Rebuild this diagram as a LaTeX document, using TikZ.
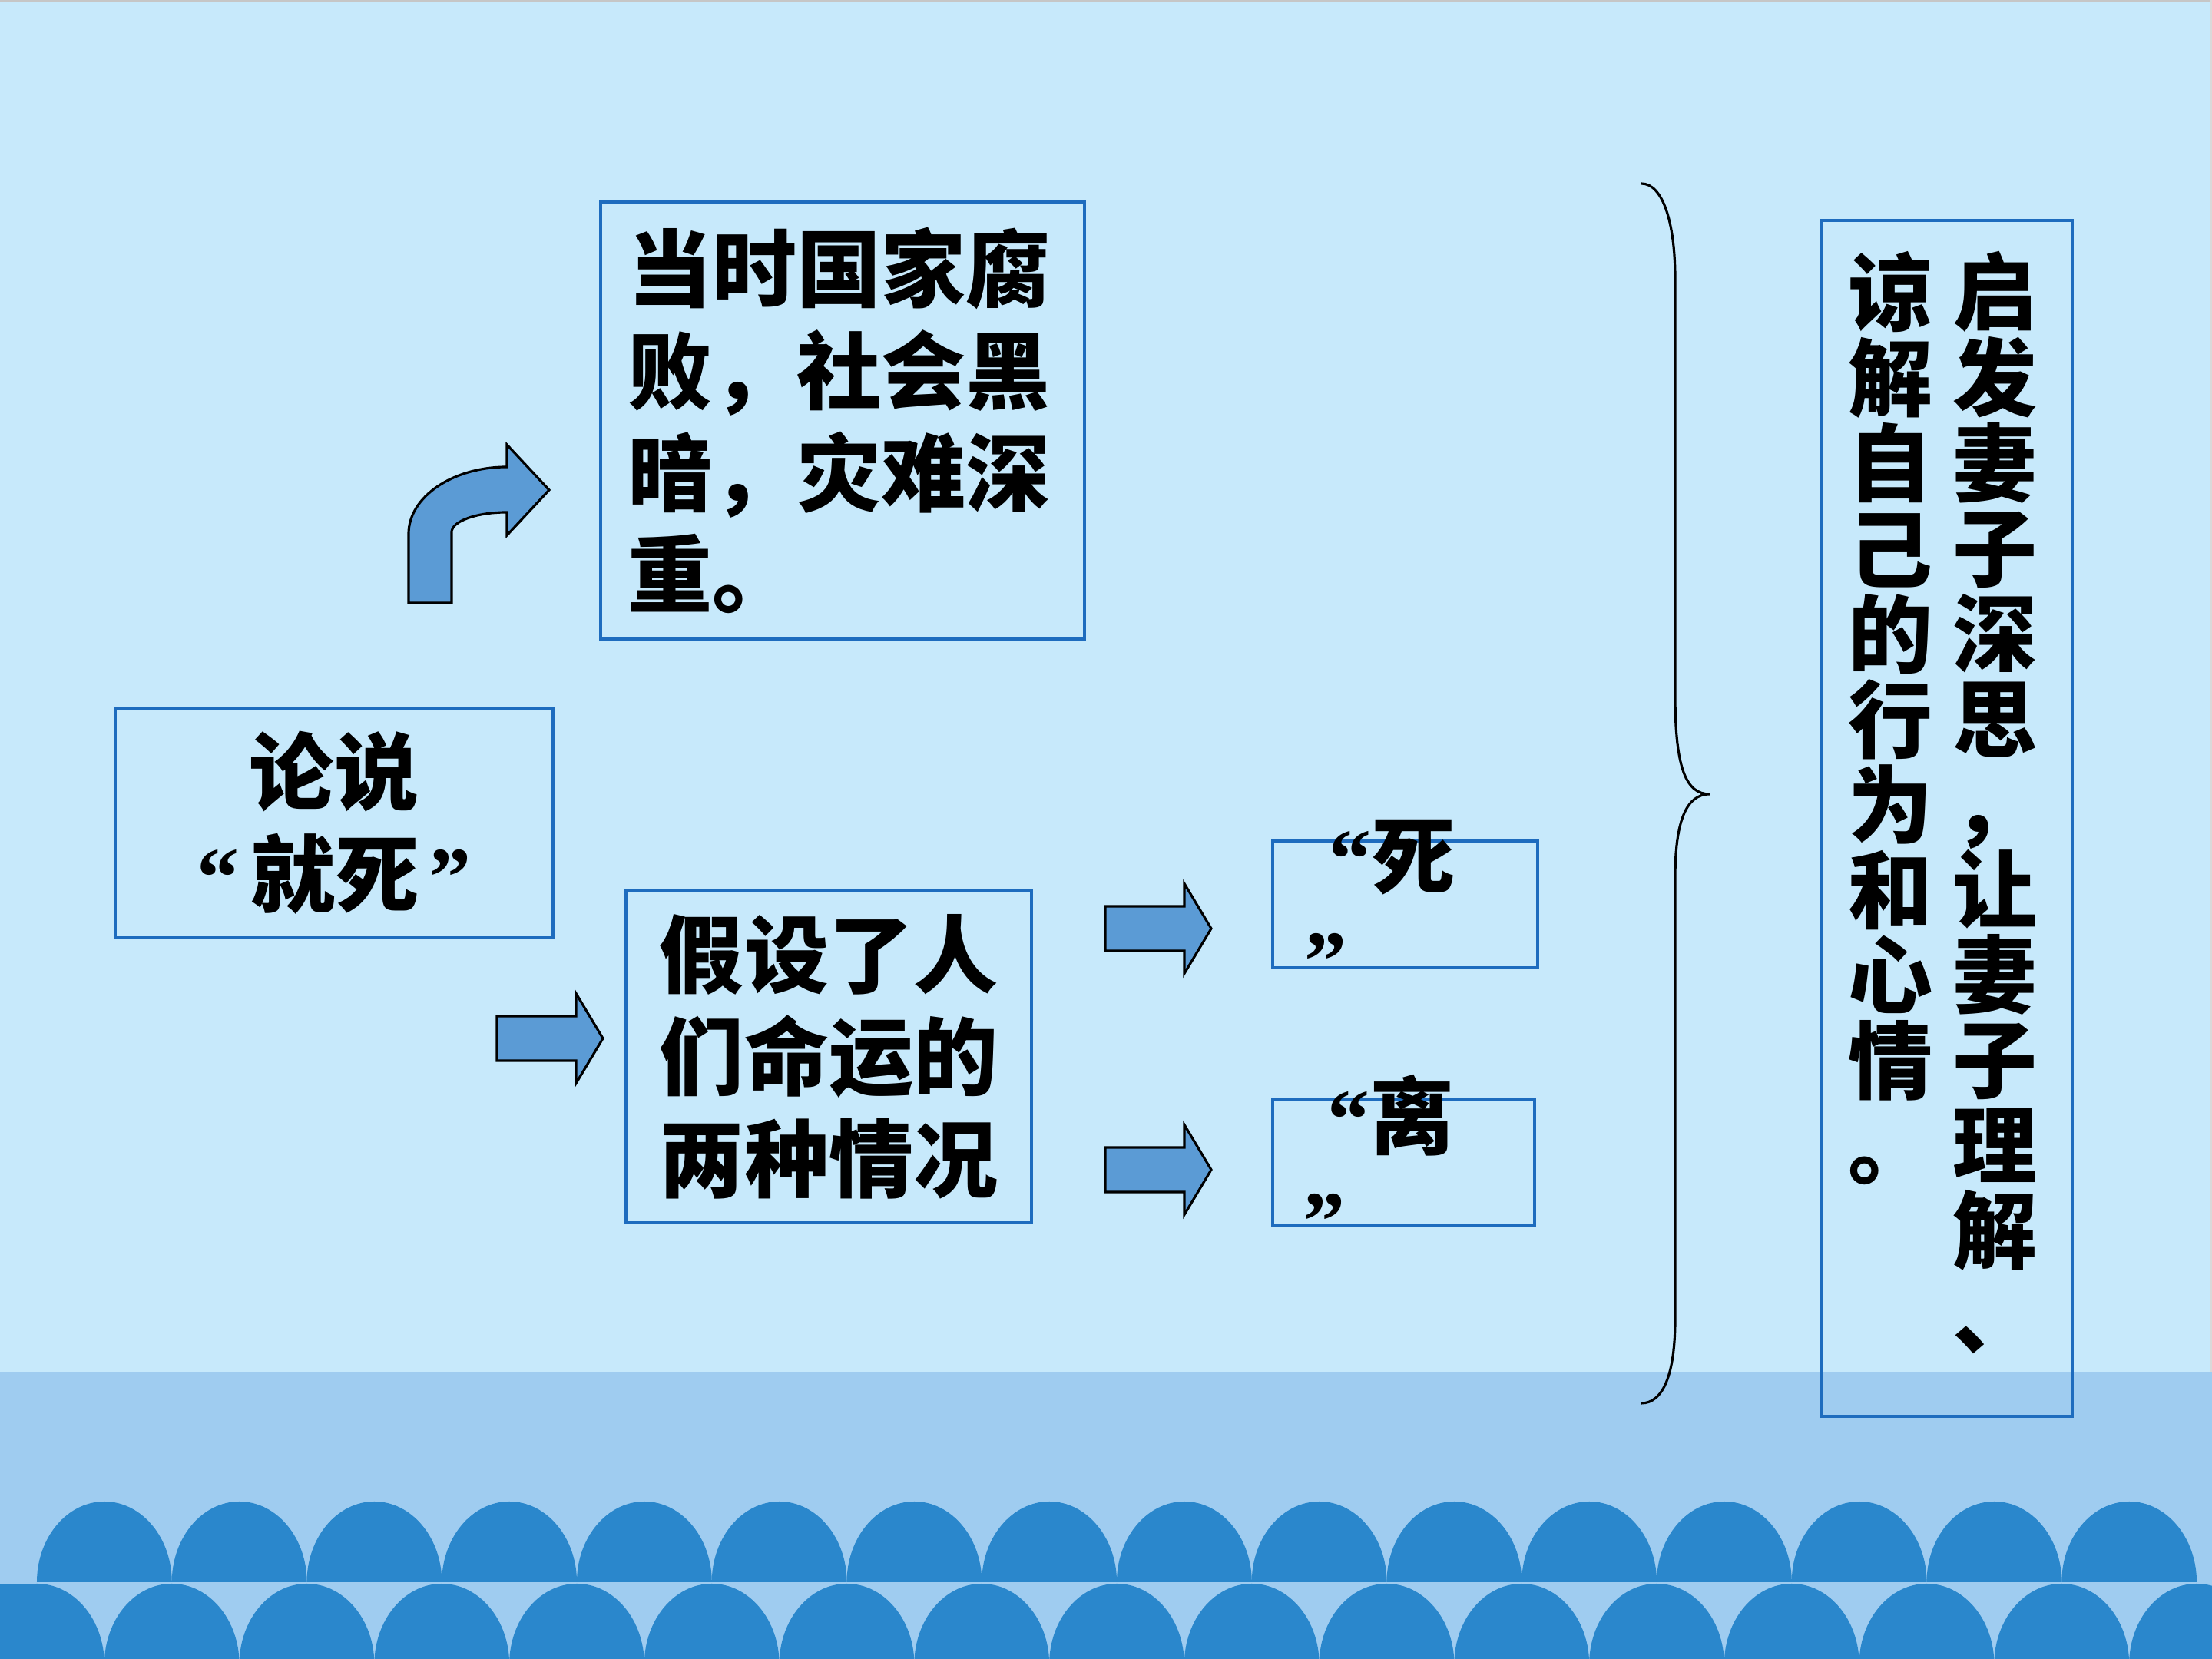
\documentclass[tikz,border=0pt]{standalone}
\usepackage{fontspec}
\usepackage{tikz}
\newfontfamily\cjkfont{Noto Sans CJK SC}
\newfontfamily\qtfont{Liberation Serif}
\definecolor{bgblue}{RGB}{199,233,251}
\definecolor{bandblue}{RGB}{159,204,240}
\definecolor{waveblue}{RGB}{42,135,204}
\definecolor{arrowblue}{RGB}{91,155,213}
\definecolor{boxblue}{RGB}{30,108,190}
\newcommand{\boxfont}{\cjkfont\bfseries\fontsize{31.3pt}{37.8pt}\selectfont}
\newcommand{\colfont}{\cjkfont\bfseries\fontsize{31.3pt}{31.6pt}\selectfont}
\newcommand{\openq}{{\qtfont “}}
\newcommand{\closeq}{{\qtfont ”}}
\newcommand{\rightblock}[1]{%
  \draw[blockarrow] (#1) ++(0,0.29) -- ++(1.03,0) -- ++(0,0.295) -- ++(0.35,-0.585)
    -- ++(-0.35,-0.585) -- ++(0,0.295) -- ++(-1.03,0) -- cycle;}

\begin{document}
\begin{tikzpicture}[
  every node/.style={font=\boxfont},
  textbox/.style={shape=rectangle,draw=boxblue,line width=1pt,inner sep=0pt},
  column/.style={align=center,inner sep=0pt,anchor=north,font=\colfont},
  quoteword/.style={align=left,text width=1.99cm,inner sep=0pt},
  blockarrow/.style={draw=black,fill=arrowblue,line width=0.9pt},
  brace/.style={draw=black,line width=0.9pt},
  wave/.style={fill=waveblue}
]
\useasboundingbox (0,0) rectangle (28.8,21.6);
\fill[bgblue] (0,0) rectangle (28.8,21.6);
\fill[gray!45] (0,21.57) rectangle (28.8,21.6);
\fill[gray!30] (28.77,0) rectangle (28.8,21.6);

% bottom band and waves
\fill[bandblue] (0,0) rectangle (28.8,3.74);
\begin{scope}
  \clip (0,0) rectangle (28.8,21.6);
  \foreach \k in {0,...,15}
    \fill[wave] ({0.48+1.7575*\k},1.0) arc[start angle=180,end angle=0,x radius=0.879,y radius=1.05] -- cycle;
  \foreach \k in {0,...,16}
    \fill[wave] ({0.48+1.7575*\k-0.879},-0.07) arc[start angle=180,end angle=0,x radius=0.879,y radius=1.05] -- cycle;
  \fill[wave] (0,-0.1) rectangle (0.48,0.98);
\end{scope}

% boxes
\node[textbox,minimum width=5.70cm,minimum height=2.99cm,align=center] (death) at (4.35,10.885)
  {论说\\\openq\hspace{0.15cm}就死\hspace{0.12cm}\closeq};
\node[textbox,minimum width=6.30cm,minimum height=5.69cm,align=left,text width=5.6cm] (country) at (10.97,16.125)
  {当时国家腐\\败，社会黑\\暗，灾难深\\重。};
\node[textbox,minimum width=5.28cm,minimum height=4.33cm,align=center] (cases) at (10.79,7.845)
  {假设了人\\们命运的\\两种情况};
\node[textbox,minimum width=3.45cm,minimum height=1.65cm] (die) at (18.295,9.825) {};
\node[quoteword] (dieText) at (die) {\openq 死\\\hspace*{-0.32cm}\closeq};
\node[textbox,minimum width=3.41cm,minimum height=1.65cm] (part) at (18.275,6.465) {};
\node[quoteword] (partText) at (part) {\openq 离\\\hspace*{-0.32cm}\closeq};
\node[textbox,minimum width=3.27cm,minimum height=15.57cm] (purpose) at (25.345,10.945) {};
\node[column] (colR) at (25.97,18.33) {启\\发\\妻\\子\\深\\思\\，\\让\\妻\\子\\理\\解\\、};
\node[column] (colL) at (24.61,18.33) {谅\\解\\自\\己\\的\\行\\为\\和\\心\\情\\。};

% arrows
\draw[blockarrow] (5.32,13.75) -- (5.32,14.65)
  arc[start angle=180,end angle=90,x radius=1.28,y radius=0.87]
  -- (6.60,15.81) -- (7.15,15.22) -- (6.60,14.63) -- (6.60,14.93)
  arc[start angle=90,end angle=180,x radius=0.72,y radius=0.26]
  -- (5.88,13.75) -- cycle;
\coordinate (arrCases) at (6.47,8.08);
\coordinate (arrDie) at (14.39,9.51);
\coordinate (arrPart) at (14.39,6.37);
\rightblock{arrCases}
\rightblock{arrDie}
\rightblock{arrPart}

% brace
\draw[brace] (21.37,19.21) .. controls (21.65,19.21) and (21.81,18.7) .. (21.81,17.97)
  -- (21.81,12.55) .. controls (21.81,11.6) and (21.95,11.26) .. (22.26,11.26)
  .. controls (21.95,11.26) and (21.81,10.9) .. (21.81,10.17)
  -- (21.81,4.42) .. controls (21.81,3.7) and (21.65,3.33) .. (21.37,3.33);
\end{tikzpicture}
\end{document}
